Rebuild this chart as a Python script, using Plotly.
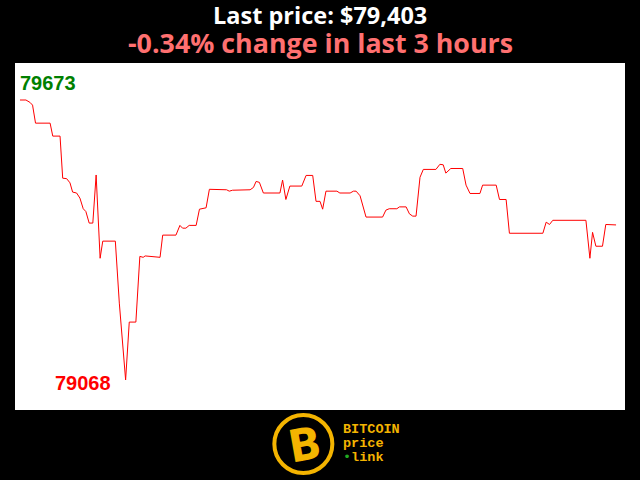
import plotly.graph_objects as go

minutes = [0, 1.8, 3, 3.8, 4.7, 9.1, 9.9, 12.1, 12.9, 14.1, 15.1, 15.9, 17.1, 18.1, 19.1, 19.9,
           20.9, 22, 23, 24.2, 25, 28.8, 30, 31.9, 33, 35, 36.2, 37.2, 37.8, 40.8, 42.3, 43.1,
           47.1, 48.3, 49.1, 50.1, 51.1, 53.2, 54.2, 56.2, 57.2, 62.4, 63.2, 64.2, 69.5, 70.5,
           71.3, 72.3, 73.5, 78.5, 79.3, 80.3, 81.5, 85.1, 86.4, 88.4, 89.4, 90.6, 91.4, 92.4,
           95.7, 96.6, 99.7, 100.7, 101.5, 102.7, 104.5, 109.5, 110.5, 111.5, 113.8, 114.6,
           116.6, 117.6, 118.6, 119.6, 120.8, 121.8, 125.6, 126.8, 127.8, 128.6, 130.1, 133.7,
           134.7, 135.9, 138.9, 139.7, 143.8, 144.8, 146.8, 147.8, 157.9, 158.9, 159.9, 160.9,
           170.9, 172.1, 172.9, 173.9, 175.9, 176.9, 180]
prices = [79673, 79673, 79668, 79662, 79623, 79623, 79595, 79595, 79504, 79503, 79494, 79474,
          79472, 79461, 79438, 79432, 79407, 79407, 79511, 79331, 79368, 79368, 79234, 79068,
          79193, 79193, 79335, 79333, 79336, 79335, 79333, 79381, 79381, 79402, 79396, 79396,
          79402, 79402, 79437, 79440, 79480, 79479, 79476, 79478, 79479, 79484, 79497, 79495,
          79472, 79472, 79500, 79458, 79487, 79487, 79510, 79510, 79454, 79454, 79437, 79476,
          79476, 79472, 79472, 79476, 79476, 79466, 79420, 79420, 79435, 79438, 79438, 79442,
          79442, 79427, 79422, 79422, 79506, 79523, 79523, 79534, 79533, 79515, 79525, 79525,
          79489, 79471, 79471, 79489, 79489, 79458, 79458, 79385, 79385, 79409, 79404, 79413,
          79413, 79331, 79387, 79357, 79357, 79404, 79403]

last_price = 79403
change_pct = -0.34
title_text = "Last price: $79,403"
subtitle_text = "-0.34% change in last 3 hours"
logo_lines = ["BITCOIN", "price", "link"]

hi = max(prices)
lo = min(prices)
hi_i = prices.index(hi)
lo_i = prices.index(lo)

gold = "#f4b400"

fig = go.Figure()
fig.add_trace(go.Scatter(x=minutes, y=prices, mode="lines",
                         line=dict(color="#ff0000", width=1), hoverinfo="skip"))

fig.add_annotation(x=minutes[hi_i], y=hi, text=f"<b>{hi}</b>", showarrow=False,
                   xanchor="left", yanchor="bottom", yshift=4, xshift=-2,
                   font=dict(family="Liberation Sans, Arial", size=20, color="#008000"))
fig.add_annotation(x=minutes[lo_i], y=lo, text=f"<b>{lo}</b>", showarrow=False,
                   xanchor="right", yanchor="middle", xshift=-13, yshift=-3,
                   font=dict(family="Liberation Sans, Arial", size=20, color="#ff0000"))

# titles
fig.add_annotation(xref="paper", yref="paper", x=0.5, y=1, yshift=48, xanchor="center",
                   yanchor="middle", text=f"<b>{title_text}</b>", showarrow=False,
                   font=dict(family="Open Sans", size=23.5, color="#ffffff"))
fig.add_annotation(xref="paper", yref="paper", x=0.5, y=1, yshift=21, xanchor="center",
                   yanchor="middle", text=f"<b>{subtitle_text}</b>", showarrow=False,
                   font=dict(family="Open Sans", size=26.8, color="#ff7070"))

# logo
fig.add_shape(type="circle", xref="paper", yref="paper", xsizemode="pixel", ysizemode="pixel",
              xanchor=0.4727, yanchor=0, x0=-29, x1=29, y0=-63, y1=-5,
              line=dict(color=gold, width=4), fillcolor="rgba(0,0,0,0)")
fig.add_annotation(xref="paper", yref="paper", x=0.4727, y=0, yshift=-34, xshift=2,
                   xanchor="center", yanchor="middle",
                   text="B", showarrow=False, textangle=-10,
                   font=dict(family="Roboto", size=46, color=gold, weight=900))
for i, t in enumerate(logo_lines):
    fig.add_annotation(xref="paper", yref="paper", x=0.5344, y=0, yshift=-19 - 14 * i,
                       xanchor="left", yanchor="middle",
                       text=("<span style='color:#22aa22'>•</span>" if t == "link" else "") + f"<b>{t}</b>",
                       showarrow=False,
                       font=dict(family="Liberation Mono, Courier New", size=13.5, color=gold))

fig.update_layout(
    width=640, height=480,
    margin=dict(l=15, r=15, t=63, b=70),
    paper_bgcolor="#000000", plot_bgcolor="#ffffff",
    showlegend=False,
    xaxis=dict(range=[-1.5, 182.7], visible=False, fixedrange=True),
    yaxis=dict(range=[79003, 79753], visible=False, fixedrange=True),
)

fig.write_html("out.html", config={"displayModeBar": False},
               post_script="document.body.style.margin='0';document.body.style.background='#000';")
